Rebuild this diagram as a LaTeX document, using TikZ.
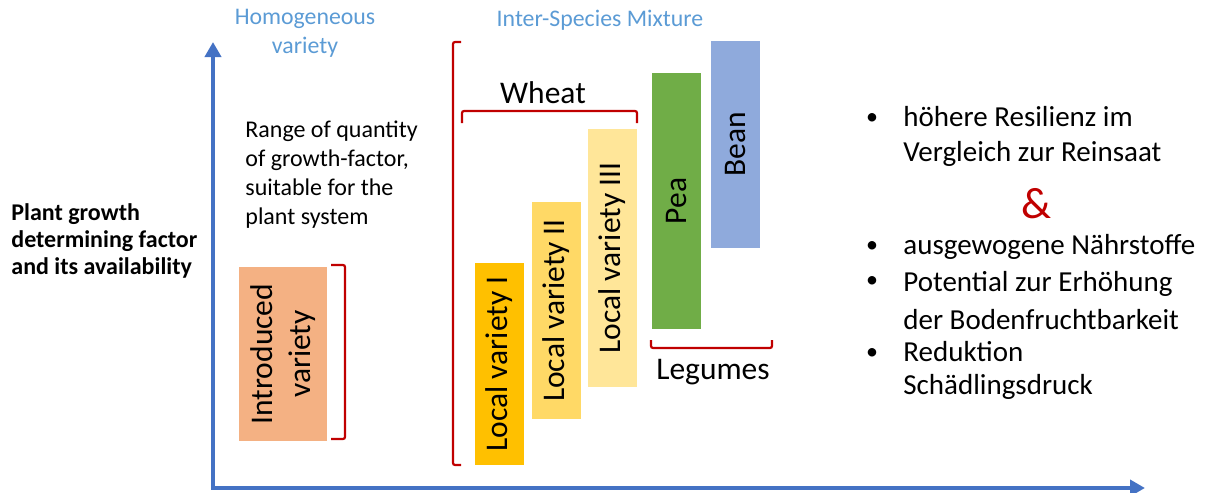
\documentclass[tikz,border=0pt]{standalone}
\usepackage{fontspec}
\setmainfont{Carlito}
\usetikzlibrary{arrows.meta}
\definecolor{axisblue}{HTML}{4472C4}
\definecolor{headblue}{HTML}{5B9BD5}
\definecolor{bracketred}{HTML}{C00000}
\definecolor{introfill}{HTML}{F4B183}
\definecolor{lvonefill}{HTML}{FFC000}
\definecolor{lvtwofill}{HTML}{FFD966}
\definecolor{lvthreefill}{HTML}{FFE699}
\definecolor{peafill}{HTML}{70AD47}
\definecolor{beanfill}{HTML}{8FAADC}
\begin{document}
\begin{tikzpicture}[x=0.5pt,y=-0.5pt,
    bar node/.style={inner sep=0,rotate=90,align=center,font=\fontsize{15.75}{19}\selectfont},
    head node/.style={inner sep=0,align=center,text=headblue,font=\fontsize{11.9}{14.5}\selectfont},
    text node/.style={inner sep=0,align=left,font=\fontsize{12}{14.5}\selectfont},
    bullet node/.style={inner sep=0,align=left,anchor=west,font=\fontsize{14.5}{17.5}\selectfont},
    bracket/.style={draw=bracketred,line width=1.1pt,rounded corners=1pt},
    axis/.style={draw=axisblue,line width=2pt,{Triangle[length=7.5pt,width=8pt]}-{Triangle[length=7.5pt,width=8pt]}}]
                \useasboundingbox (0,0) rectangle (1207,493);

                % axes
                \coordinate (ytip) at (213,42);
                \coordinate (origin) at (213,488);
                \coordinate (xtip) at (1145,488);
                \draw[axis] (ytip) -- (origin) -- (xtip);

                \node[text node,anchor=west,font=\bfseries\fontsize{12}{13.5}\selectfont] at (11,241) (ylabel) {Plant growth\\determining factor\\and its availability};
                \node[head node] at (305,33) (homog) {Homogeneous\\variety};
                \node[head node] at (600,20) (mix) {Inter-Species Mixture};
                \node[text node,anchor=west] at (245,175) (range) {Range of quantity\\of growth-factor,\\suitable for the\\plant system};

                % bars
                \node[bar node,fill=introfill,minimum width=87pt,minimum height=44pt] at (283,354) (intro) {Introduced\\variety};
                \node[bar node,fill=lvonefill,minimum width=101pt,minimum height=24.5pt] at (499.5,364) (lv1) {Local variety I};
                \node[bar node,fill=lvtwofill,minimum width=108.5pt,minimum height=24.5pt] at (556.5,310.5) (lv2) {Local variety II};
                \node[bar node,fill=lvthreefill,minimum width=129pt,minimum height=24.5pt] at (612.5,258) (lv3) {Local variety III};
                \node[bar node,fill=peafill,minimum width=128pt,minimum height=24.5pt] at (676.5,201) (pea) {Pea};
                \node[bar node,fill=beanfill,minimum width=103.5pt,minimum height=24.5pt] at (735.5,144.5) (bean) {Bean};

                % brackets
                \draw[bracket] (331,265) -- (345,265) -- (345,439) -- (331,439);
                \draw[bracket] (461,42) -- (453,42) -- (453,465) -- (461,465);
                \draw[bracket] (462,123) -- (462,111) -- (637,111) -- (637,123);
                \draw[bracket] (651,340) -- (651,348) -- (772,348) -- (772,340);
                \node[inner sep=0,font=\fontsize{15.75}{19}\selectfont] at (543,93) (wheat) {Wheat};
                \node[inner sep=0,font=\fontsize{15.75}{19}\selectfont] at (713,372) (legumes) {Legumes};

                % benefits
                \node[bullet node] at (903,136) (b1) {höhere Resilienz im\\Vergleich zur Reinsaat};
                \node[inner sep=0,text=bracketred,font=\fontsize{22}{26}\selectfont] at (1037,204) (amp) {\&};
                \node[bullet node] at (903,247) (b2) {ausgewogene Nährstoffe};
                \node[bullet node,font=\fontsize{14.5}{19}\selectfont] at (903,301) (b3) {Potential zur Erhöhung\\der Bodenfruchtbarkeit};
                \node[bullet node,font=\fontsize{14.5}{16.5}\selectfont] at (903,370.5) (b4) {Reduktion\\Schädlingsdruck};
                \foreach \y/\n in {119/d1,247/d2,282/d3,354/d4}
                    \node[inner sep=0,font=\fontsize{12}{14}\selectfont] at (872,\y) (\n) {•};
            \end{tikzpicture}
\end{document}
